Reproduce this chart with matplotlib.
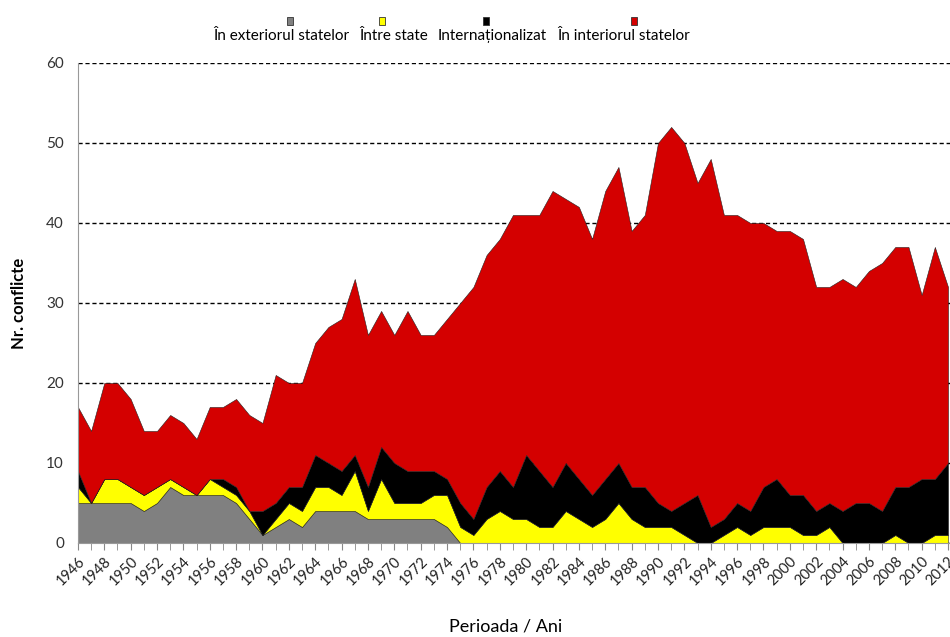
import numpy as np
import matplotlib
matplotlib.use('Agg')
import matplotlib.pyplot as plt
from matplotlib.patches import Rectangle

plt.rcParams['font.family'] = ['Lato', 'DejaVu Sans']

ani = list(range(1946, 2013))

exterior = [5, 5, 5, 5, 5, 4, 5, 7, 6, 6, 6, 6, 5, 3, 1, 2, 3, 2, 4, 4,
            4, 4, 3, 3, 3, 3, 3, 3, 2, 0, 0, 0, 0, 0, 0, 0, 0, 0, 0, 0,
            0, 0, 0, 0, 0, 0, 0, 0, 0, 0, 0, 0, 0, 0, 0, 0, 0, 0, 0, 0,
            0, 0, 0, 0, 0, 0, 0]
intre_state = [2, 0, 3, 3, 2, 2, 2, 1, 1, 0, 2, 1, 1, 1, 0, 1, 2, 2, 3, 3,
               2, 5, 1, 5, 2, 2, 2, 3, 4, 2, 1, 3, 4, 3, 3, 2, 2, 4, 3, 2,
               3, 5, 3, 2, 2, 2, 1, 0, 0, 1, 2, 1, 2, 2, 2, 1, 1, 2, 0, 0,
               0, 0, 1, 0, 0, 1, 1]
internationalizat = [2, 0, 0, 0, 0, 0, 0, 0, 0, 0, 0, 1, 1, 0, 3, 2, 2, 3, 4, 3,
                     3, 2, 3, 4, 5, 4, 4, 3, 2, 3, 2, 4, 5, 4, 8, 7, 5, 6, 5, 4,
                     5, 5, 4, 5, 3, 2, 4, 6, 2, 2, 3, 3, 5, 6, 4, 5, 3, 3, 4, 5,
                     5, 4, 6, 7, 8, 7, 9]
interior = [8, 9, 12, 12, 11, 8, 7, 8, 8, 7, 9, 9, 11, 12, 11, 16, 13, 13, 14, 17,
            19, 22, 19, 17, 16, 20, 17, 17, 20, 25, 29, 29, 29, 34, 30, 32, 37, 33, 34, 32,
            36, 37, 32, 34, 45, 48, 45, 39, 46, 38, 36, 36, 33, 31, 33, 32, 28, 27, 29, 27,
            29, 31, 30, 30, 23, 29, 22]

etichete = ['În exteriorul statelor', 'Între state', 'Internaționalizat', 'În interiorul statelor']
culori = ['#808080', '#ffff00', '#000000', '#d40000']

fig = plt.figure(figsize=(9.5, 6.37), dpi=100)
ax = fig.add_axes([0.082, 0.1476, 0.918, 0.7536])

ax.stackplot(ani, exterior, intre_state, internationalizat, interior,
             colors=culori, edgecolor='#222222', linewidth=0.4, zorder=2)

ax.set_xlim(1946, 2012.15)
ax.set_ylim(0, 60)
ax.set_yticks(np.arange(0, 61, 10))
ax.set_xticks(ani, minor=True)
ax.set_xticks(ani[::2])
ax.set_xticklabels([str(a) for a in ani[::2]], rotation=45, ha='right',
                   rotation_mode='anchor', fontsize=10.5, color='#222222')
ax.tick_params(axis='x', which='both', length=5, color='#888888', pad=3)
ax.tick_params(axis='y', length=0, labelsize=11, labelcolor='#333333', pad=10)

ax.grid(axis='y', linestyle=(0, (3, 2)), color='black', linewidth=1.0, zorder=0)
ax.set_axisbelow(True)
for s in ['top', 'right']:
    ax.spines[s].set_visible(False)
ax.spines['left'].set_color('#999999')
ax.spines['bottom'].set_color('#999999')

ax.set_ylabel('Nr. conflicte', fontsize=12, fontweight='bold', labelpad=14)
fig.text(0.532, 0.004, 'Perioada / Ani', ha='center', va='bottom', fontsize=13)

# legenda in stilul Excel: marcaj mic deasupra textului
legenda_x = [281, 394, 492, 624]
marcaj_x = [290, 382, 486, 634]
for txt, c, lx, mx in zip(etichete, culori, legenda_x, marcaj_x):
    fig.text(lx / 950, 1 - 36 / 637, txt, ha='center', va='center', fontsize=11)
    fig.patches.append(Rectangle((mx / 950 - 0.0035, 1 - 25 / 637), 0.007, 0.0125,
                                 transform=fig.transFigure, facecolor=c,
                                 edgecolor='#333333', linewidth=0.6))

fig.savefig('out.png', dpi=100)
